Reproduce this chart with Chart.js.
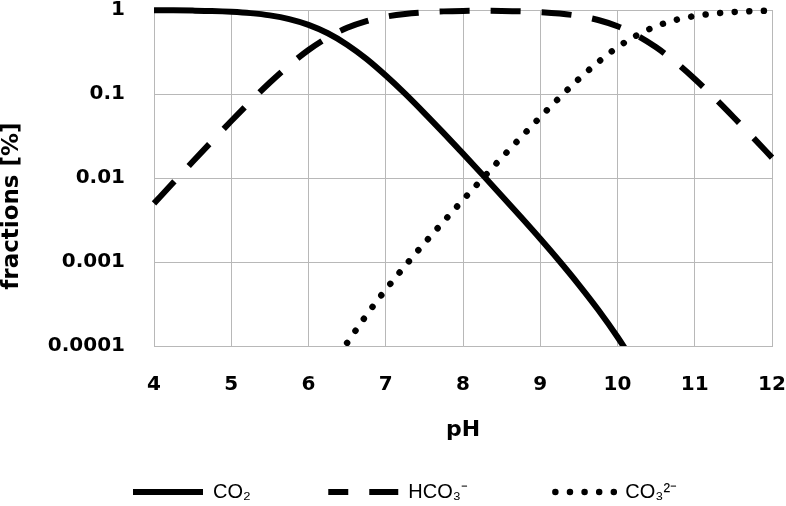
<!DOCTYPE html>
<html>
<head>
<meta charset="utf-8">
<script src="https://cdn.jsdelivr.net/npm/chart.js@4.4.1/dist/chart.umd.min.js"></script>
<style>
html,body{margin:0;padding:0;background:#fff;}
#wrap{width:786px;height:506px;}
</style>
</head>
<body>
<div id="wrap"><canvas id="c" width="786" height="506"></canvas></div>
<script>
// ---- data ----
const pHValues = [4, 4.25, 4.5, 4.75, 5, 5.25, 5.5, 5.75, 6, 6.25, 6.5, 6.75, 7, 7.25, 7.5, 7.75,
                  8, 8.25, 8.5, 8.75, 9, 9.25, 9.5, 9.75, 10, 10.25, 10.5, 10.75, 11, 11.25, 11.5, 11.75, 12];
const co2Fraction = [0.995, 0.991, 0.984, 0.973, 0.952, 0.918, 0.863, 0.780, 0.666, 0.529, 0.387, 0.262,
                     0.166, 0.101, 0.0593, 0.0342, 0.0195, 0.0110, 0.00616, 0.00343, 0.00189, 0.00102,
                     0.000535, 0.000270, 0.000128, 0.0000561, null, null, null, null, null, null, null];
const hco3Fraction = [0.00499, 0.00883, 0.0156, 0.0274, 0.0477, 0.0818, 0.137, 0.220, 0.334, 0.471, 0.613,
                      0.738, 0.833, 0.898, 0.939, 0.963, 0.975, 0.979, 0.976, 0.966, 0.945, 0.908, 0.849,
                      0.760, 0.640, 0.500, 0.360, 0.240, 0.151, 0.0909, 0.0532, 0.0307, 0.0175];
const co3Fraction = [null, null, null, null, null, null, null, null, null, null, 0.000109, 0.000233,
                     0.000469, 0.000898, 0.00167, 0.00304, 0.00548, 0.00979, 0.0174, 0.0305, 0.0531,
                     0.0908, 0.151, 0.240, 0.360, 0.500, 0.640, 0.760, 0.849, 0.909, 0.947, 0.969, 0.983];
const seriesNames = ['CO\u2082', 'HCO\u2083\u207B', 'CO\u2083\u00B2\u207B'];
const xTickValues = [4, 5, 6, 7, 8, 9, 10, 11, 12];
const yTickValues = [0.0001, 0.001, 0.01, 0.1, 1];
const yTickLabels = ['0.0001', '0.001', '0.01', '0.1', '1'];
const xTitle = 'pH';
const yTitle = 'fractions [%]';

// ---- styling ----
const gridColor = '#b8b8b8';
const tickFont = {family: 'DejaVu Sans', weight: 'bold', size: 20, lineHeight: 1};
const legendFontSize = 20;
const legendPad = 77.5;
const legendLineY = 492;
const legendStartX = 133;
const legendDashOffsets = [0, 10, 4.61];

const toPoints = arr => pHValues.map((x, i) => ({x: x, y: arr[i]}));
const clipBox = {left: 4, top: 6, right: 4, bottom: 0};

const legendPlacer = {
  id: 'legendPlacer',
  afterLayout(chart) {
    const lg = chart.legend;
    if (!lg || !lg.lineWidths) return;
    const dy = legendLineY - (lg.top + legendPad + legendFontSize / 2);
    lg.top += dy;
    lg.bottom = chart.height;
    lg.height = lg.bottom - lg.top;
    const startX = (lg.left + legendPad + lg.right - lg.lineWidths[0]) / 2;
    const dx = legendStartX - startX;
    lg.left += dx; lg.right += dx;
  }
};

const zeroPad = s => { s.paddingTop = 0; s.paddingBottom = 0; s.paddingLeft = 0; s.paddingRight = 0; };

new Chart(document.getElementById('c'), {
  type: 'line',
  data: {
    datasets: [
      {label: seriesNames[0], data: toPoints(co2Fraction), borderColor: '#000', backgroundColor: '#000',
       borderWidth: 6, borderCapStyle: 'butt', borderDash: [], clip: clipBox},
      {label: seriesNames[1], data: toPoints(hco3Fraction), borderColor: '#000', backgroundColor: '#000',
       borderWidth: 6, borderCapStyle: 'butt', borderDash: [30, 21], clip: clipBox},
      {label: seriesNames[2], data: toPoints(co3Fraction), borderColor: '#000', backgroundColor: '#000',
       borderWidth: 6.5, borderCapStyle: 'round', borderDash: [0.01, 14.6], clip: clipBox}
    ]
  },
  options: {
    responsive: false,
    animation: false,
    devicePixelRatio: 1,
    layout: {padding: {top: 10, right: 14, bottom: 0, left: 0}},
    elements: {
      point: {radius: 0, hoverRadius: 0},
      line: {cubicInterpolationMode: 'monotone', fill: false}
    },
    plugins: {
      tooltip: {enabled: false},
      legend: {
        position: 'bottom',
        maxHeight: 40,
        labels: {
          usePointStyle: true,
          pointStyle: 'line',
          pointStyleWidth: 70,
          padding: legendPad,
          color: '#000',
          font: {family: "'Liberation Sans', Arial, sans-serif", size: legendFontSize},
          generateLabels: chart => chart.data.datasets.map((ds, i) => ({
            text: ds.label,
            fillStyle: ds.borderColor,
            strokeStyle: ds.borderColor,
            fontColor: '#000',
            lineWidth: ds.borderWidth,
            lineDash: ds.borderDash,
            lineDashOffset: legendDashOffsets[i],
            lineCap: ds.borderCapStyle,
            pointStyle: 'line',
            hidden: false,
            datasetIndex: i
          }))
        }
      }
    },
    scales: {
      x: {
        type: 'linear',
        min: 4, max: 12,
        afterBuildTicks: s => { s.ticks = xTickValues.map(v => ({value: v})); },
        afterFit: s => { s.height = 120; zeroPad(s); },
        ticks: {font: tickFont, color: '#000', padding: 29, maxRotation: 0, autoSkip: false,
                callback: v => String(v)},
        grid: {color: gridColor, lineWidth: 1, drawTicks: false, tickLength: 0},
        border: {color: gridColor, width: 1},
        title: {display: true, text: xTitle, color: '#000',
                font: {family: 'DejaVu Sans', weight: 'bold', size: 22, lineHeight: 1},
                padding: {top: 0, bottom: 24.5}}
      },
      y: {
        type: 'logarithmic',
        min: 0.0001, max: 1,
        afterBuildTicks: s => { s.ticks = yTickValues.map(v => ({value: v, major: true})); },
        afterFit: s => { s.width = 154; zeroPad(s); },
        ticks: {font: tickFont, color: '#000', padding: 29, autoSkip: false,
                callback: (v, i) => yTickLabels[i]},
        grid: {color: gridColor, lineWidth: 1, drawTicks: false, tickLength: 0},
        border: {color: gridColor, width: 1},
        title: {display: true, text: yTitle + '\u00A0\u00A0\u00A0\u00A0\u00A0\u00A0\u00A0', color: '#000',
                font: {family: 'DejaVu Sans', weight: 'bold', size: 23, lineHeight: 1},
                padding: {top: 0.5, bottom: 0}}
      }
    }
  },
  plugins: [legendPlacer]
});
</script>
</body>
</html>
